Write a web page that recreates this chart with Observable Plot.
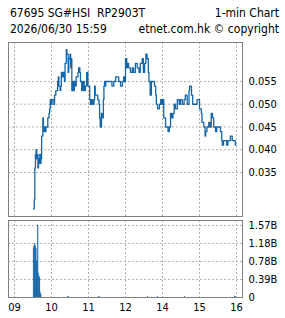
<!DOCTYPE html>
<html>
<head>
<meta charset="utf-8">
<script src="https://cdn.jsdelivr.net/npm/d3@7"></script>
<script src="https://cdn.jsdelivr.net/npm/@observablehq/plot@0.6"></script>
<style>
  html, body { margin: 0; padding: 0; background: #fff; }
  #wrap { position: relative; width: 285px; height: 318px; overflow: hidden; font-family: "DejaVu Sans Condensed", "DejaVu Sans", sans-serif; color: #000; }
  .row { position: absolute; left: 10px; right: 6px; display: flex; justify-content: space-between; font-size: 12px; line-height: 16px; white-space: pre; }
  #r1 { top: 5px; }
  #r2 { top: 21px; }
  #top, #bot { position: absolute; left: 0; }
  #top { top: 0; }
  #bot { top: 218px; }
</style>
</head>
<body>
<div id="wrap">
  <div class="row" id="r1"><span id="t1"></span><span id="t2"></span></div>
  <div class="row" id="r2"><span id="t3"></span><span id="t4"></span></div>
  <div id="top"></div>
  <div id="bot"></div>
</div>
<script>
const titleLeft = "67695 SG#HSI  RP2903T";
const titleRight = "1-min Chart";
const subLeft = "2026/06/30 15:59";
const subRight = "etnet.com.hk \u00a9 copyright";

const xTickTimes = ["09:00", "10:00", "11:00", "12:00", "14:00", "15:00", "16:00"];
const xTickLabels = ["09", "10", "11", "12", "14", "15", "16"];
const priceTicks = [0.035, 0.040, 0.045, 0.050, 0.055];
const volTicks = [0, 0.3925, 0.785, 1.1775, 1.57];
const volTickLabels = ["0", "0.39B", "0.78B", "1.18B", "1.57B"];

const priceTimes = [
  "09:31","09:32","09:33","09:34","09:35","09:36","09:37","09:38","09:39","09:40",
  "09:41","09:42","09:43","09:44","09:46","09:47","09:48","09:49","09:50","09:51",
  "09:54","09:56","09:57","09:58","09:59","10:01","10:04","10:05","10:07","10:10",
  "10:11","10:12","10:14","10:15","10:16","10:18","10:19","10:21","10:22","10:24",
  "10:25","10:27","10:28","10:30","10:31","10:32","10:33","10:35","10:36","10:37",
  "10:39","10:40","10:43","10:44","10:46","10:47","10:49","10:51","10:53","10:55",
  "10:57","10:59","11:00","11:02","11:03","11:05","11:07","11:09","11:10","11:11",
  "11:15","11:17","11:18","11:19","11:21","11:22","11:24","11:25","11:26","11:27",
  "11:28","11:38","11:41","11:44","11:49","11:52","11:55","11:57","11:58","11:59",
  "13:00","13:02","13:03","13:05","13:08","13:11","13:13","13:16","13:19","13:22",
  "13:24","13:27","13:29","13:31","13:33","13:35","13:37","13:38","13:40","13:42",
  "13:47","13:49","13:50","13:52","13:55","13:57","13:59","14:01","14:02","14:05",
  "14:09","14:11","14:13","14:15","14:17","14:19","14:21","14:24","14:27","14:29",
  "14:32","14:35","14:37","14:40","14:43","14:44","14:47","14:49","14:56","15:00",
  "15:03","15:04","15:07","15:09","15:10","15:12","15:15","15:17","15:19","15:21",
  "15:23","15:26","15:28","15:34","15:36","15:37","15:39","15:44","15:46","15:50",
  "15:53","15:58","15:59"
];
const prices = [
  0.027,0.029,0.036,0.039,0.040,0.038,0.039,0.036,0.038,0.037,
  0.039,0.037,0.038,0.043,0.047,0.045,0.044,0.045,0.044,0.045,
  0.047,0.048,0.049,0.051,0.050,0.051,0.050,0.052,0.053,0.055,
  0.056,0.054,0.053,0.054,0.057,0.056,0.057,0.055,0.059,0.062,
  0.061,0.057,0.060,0.061,0.058,0.060,0.053,0.055,0.053,0.055,
  0.054,0.056,0.057,0.058,0.057,0.055,0.053,0.055,0.053,0.054,
  0.057,0.054,0.054,0.051,0.050,0.051,0.050,0.051,0.054,0.052,
  0.051,0.050,0.047,0.045,0.048,0.047,0.051,0.054,0.055,0.054,
  0.055,0.054,0.055,0.056,0.055,0.054,0.055,0.056,0.055,0.055,
  0.060,0.058,0.059,0.058,0.057,0.058,0.057,0.059,0.058,0.057,
  0.059,0.060,0.057,0.059,0.061,0.060,0.057,0.055,0.052,0.055,
  0.054,0.052,0.050,0.049,0.050,0.051,0.050,0.051,0.047,0.045,
  0.044,0.045,0.048,0.047,0.048,0.050,0.049,0.051,0.050,0.051,
  0.050,0.051,0.052,0.050,0.053,0.054,0.052,0.050,0.051,0.049,
  0.048,0.046,0.045,0.043,0.044,0.045,0.046,0.045,0.048,0.047,
  0.045,0.044,0.045,0.044,0.042,0.041,0.042,0.041,0.042,0.043,
  0.042,0.041,0.041
];

const volTimes = ["09:31","09:32","09:33","09:34","09:35","09:36","09:37","09:38","09:39","09:40","09:41","09:42","09:43","10:27","11:17","13:36","13:52","14:36","15:58"];
const volumes = [1.06,1.10,1.17,1.13,1.06,0.79,0.75,1.57,0.52,0.40,0.45,0.11,0.05,0.02,0.02,0.02,0.02,0.02,0.02];

// session minutes since 09:00, lunch hour 12:00-13:00 removed
function sessionMin(s) {
  const [h, m] = s.split(":").map(Number);
  let v = h * 60 + m - 540;
  if (h >= 13) v -= 60;
  return v;
}

document.getElementById("t1").textContent = titleLeft;
document.getElementById("t2").textContent = titleRight;
document.getElementById("t3").textContent = subLeft;
document.getElementById("t4").textContent = subRight;

const blue = "#1466a8";
const gridStyle = { stroke: "#b4b4b4", strokeOpacity: 1, strokeDasharray: "2,2" };
const xTickPos = xTickTimes.map(sessionMin);
const xLabelMap = new Map(xTickPos.map((p, i) => [p, xTickLabels[i]]));
const volLabelMap = new Map(volTicks.map((v, i) => [v, volTickLabels[i]]));
const xDomain = [-9.7, 369.7];
const font = { fontFamily: "'DejaVu Sans Condensed', 'DejaVu Sans', sans-serif", fontSize: "11px", color: "#000", background: "transparent", overflow: "visible" };

const priceData = priceTimes.map((t, i) => ({ t: sessionMin(t), p: prices[i] }));
const volData = volTimes.map((t, i) => ({ t: sessionMin(t), v: volumes[i] }));

const topPlot = Plot.plot({
  width: 285, height: 218,
  marginLeft: 8, marginRight: 43, marginTop: 42, marginBottom: 2,
  style: font,
  x: { domain: xDomain, axis: null },
  y: { domain: [0.02533, 0.06357], axis: null },
  marks: [
    Plot.gridX(xTickPos, gridStyle),
    Plot.gridY(priceTicks, gridStyle),
    Plot.line(priceData, { x: "t", y: "p", curve: "step-after", stroke: blue, strokeWidth: 1.3 }),
    Plot.axisY(priceTicks, { anchor: "right", label: null, tickSize: 0, tickPadding: 6, tickFormat: d3.format(".3f") }),
    Plot.frame({ stroke: "#808080" })
  ]
});
document.getElementById("top").appendChild(topPlot);

const botPlot = Plot.plot({
  width: 285, height: 100,
  marginLeft: 8, marginRight: 43, marginTop: 2, marginBottom: 21,
  style: font,
  x: { domain: xDomain, axis: null },
  y: { domain: [0, 1.678], axis: null },
  marks: [
    Plot.gridX(xTickPos, gridStyle),
    Plot.gridY(volTicks, gridStyle),
    Plot.rectY(volData, { x1: "t", x2: d => d.t + 1, y: "v", fill: blue, stroke: blue, strokeWidth: 0.4 }),
    Plot.axisY(volTicks, { anchor: "right", label: null, tickSize: 0, tickPadding: 6, tickFormat: d => volLabelMap.get(d) }),
    Plot.axisX(xTickPos, { anchor: "bottom", label: null, tickSize: 0, tickPadding: 6, tickFormat: d => xLabelMap.get(d) }),
    Plot.frame({ stroke: "#808080" })
  ]
});
document.getElementById("bot").appendChild(botPlot);
</script>
</body>
</html>
